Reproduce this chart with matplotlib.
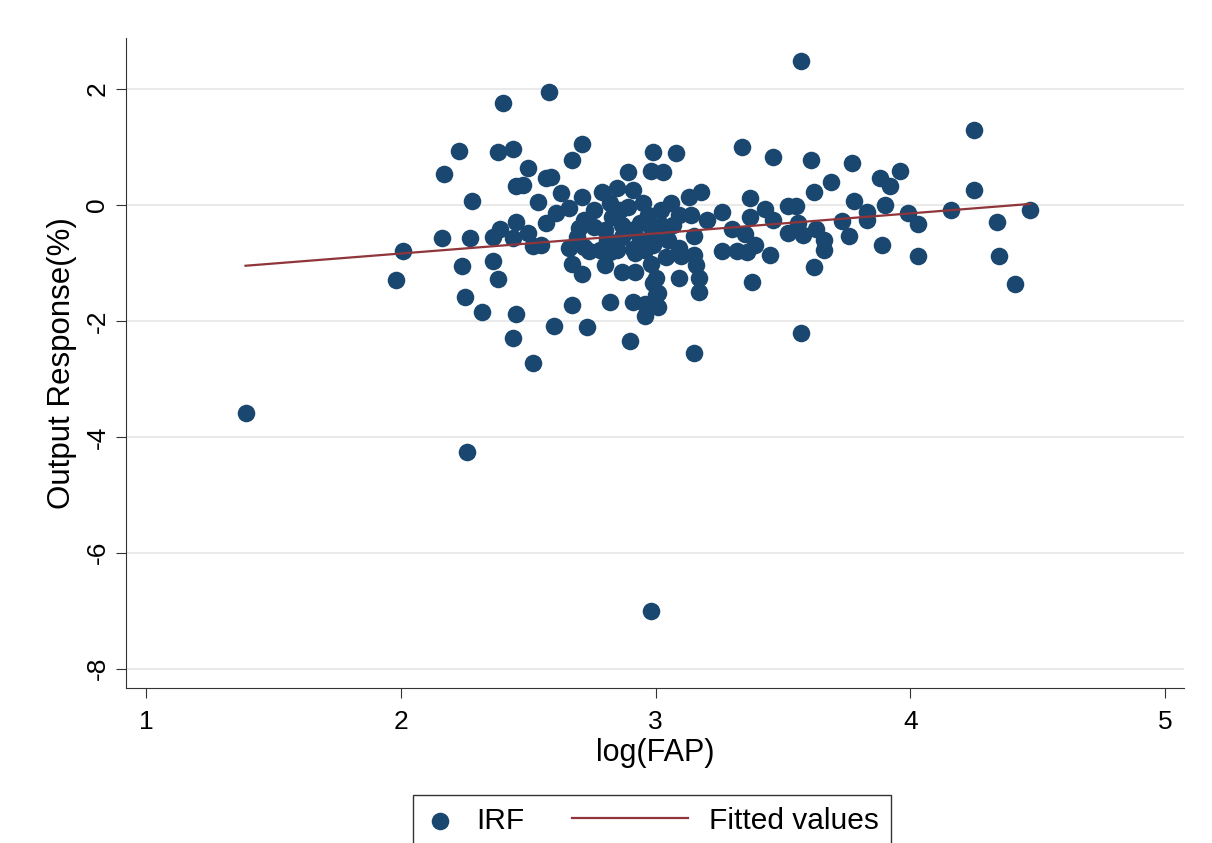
import numpy as np
import matplotlib
matplotlib.use("Agg")
import matplotlib.pyplot as plt
from matplotlib.legend_handler import HandlerLine2D

plt.rcParams['font.family'] = ['Liberation Sans', 'DejaVu Sans']

# IRF points: log(FAP), output response (%)
log_fap = [
    1.39, 2.26, 2.98, 3.57, 2.58, 2.40, 4.25, 4.47, 4.41, 4.35,
    4.34, 4.25, 4.16, 4.03, 4.03, 3.99, 3.96, 3.92, 3.88, 3.90,
    3.89, 3.83, 3.83, 3.77, 3.78, 3.76, 3.73, 3.69, 3.62, 3.66,
    3.66, 3.61, 3.62, 3.57, 3.52, 3.55, 3.56, 3.52, 3.58, 3.63,
    3.46, 3.43, 3.46, 3.45, 3.38, 3.37, 3.37, 3.35, 3.39, 3.36,
    3.34, 3.30, 3.26, 3.26, 3.32, 3.15, 3.17, 3.17, 3.16, 3.18,
    3.13, 3.06, 3.08, 2.99, 2.98, 3.03, 3.20, 3.14, 3.09, 3.15,
    3.07, 3.02, 3.05, 3.09, 3.10, 3.15, 3.09, 3.00, 2.98, 3.01,
    2.96, 3.01, 2.96, 2.90, 2.89, 2.95, 2.85, 2.91, 2.79, 2.71,
    2.67, 2.71, 2.63, 2.59, 2.54, 2.97, 2.98, 2.99, 2.94, 2.89,
    2.87, 2.83, 2.82, 2.76, 2.76, 2.70, 2.66, 2.61, 2.57, 2.69,
    2.81, 2.87, 2.94, 2.99, 2.55, 2.66, 2.72, 2.78, 2.85, 2.91,
    2.96, 2.74, 2.82, 2.92, 2.67, 2.71, 2.80, 2.87, 2.92, 2.99,
    3.00, 2.82, 2.91, 2.67, 2.60, 2.73, 2.52, 2.52, 2.44, 2.45,
    2.32, 2.25, 2.38, 2.36, 2.24, 2.16, 2.27, 2.01, 1.98, 2.17,
    2.23, 2.38, 2.44, 2.50, 2.45, 2.48, 2.28, 2.57, 2.39, 2.45,
    2.36, 2.44, 2.50, 3.04, 2.80, 2.90, 2.72, 2.86, 3.02,
]
output_resp = [
    -3.59, -4.26, -7.00, 2.48, 1.95, 1.76, 1.29, -0.09, -1.36, -0.88,
    -0.29, 0.26, -0.09, -0.88, -0.33, -0.14, 0.59, 0.33, 0.47, 0.00,
    -0.69, -0.12, -0.26, 0.72, 0.07, -0.53, -0.28, 0.40, 0.22, -0.60,
    -0.78, 0.78, -1.07, -2.21, -0.02, -0.02, -0.31, -0.48, -0.52, -0.41,
    0.83, -0.07, -0.26, -0.86, -1.33, 0.12, -0.21, -0.50, -0.69, -0.81,
    1.00, -0.41, -0.12, -0.79, -0.79, -2.55, -1.50, -1.26, -1.03, 0.22,
    0.14, 0.03, 0.90, 0.91, 0.59, 0.57, -0.26, -0.17, -0.17, -0.53,
    -0.34, -0.34, -0.60, -0.74, -0.88, -0.86, -1.26, -1.26, -1.02, -1.52,
    -1.71, -1.76, -1.91, -2.34, 0.57, 0.03, 0.29, 0.26, 0.22, 0.14,
    0.78, 1.05, 0.21, 0.48, 0.05, -0.17, -0.38, -0.52, -0.31, -0.03,
    -0.34, -0.21, 0.03, -0.09, -0.38, -0.40, -0.05, -0.14, -0.31, -0.55,
    -0.60, -0.55, -0.60, -0.69, -0.69, -0.74, -0.72, -0.78, -0.78, -0.76,
    -0.78, -0.79, -0.81, -0.83, -1.02, -1.19, -1.03, -1.16, -1.16, -1.34,
    -1.55, -1.67, -1.67, -1.72, -2.09, -2.10, -0.71, -2.72, -2.29, -1.88,
    -1.84, -1.59, -1.28, -0.97, -1.05, -0.57, -0.57, -0.79, -1.29, 0.53,
    0.93, 0.91, 0.97, 0.64, 0.33, 0.34, 0.07, 0.47, -0.41, -0.29,
    -0.55, -0.57, -0.48, -0.90, -0.43, -0.43, -0.26, -0.09, -0.09,
]

# fitted line
fit_intercept = -1.53
fit_slope = 0.346

x_ticks = [1, 2, 3, 4, 5]
y_ticks = [-8, -6, -4, -2, 0, 2]

navy = '#1a476f'
maroon = '#90353b'


class LongLine(HandlerLine2D):
    # legend line that reaches further left than the marker handle
    def create_artists(self, legend, orig_handle, xdescent, ydescent,
                       width, height, fontsize, trans):
        ext = 2.9 * fontsize
        return super().create_artists(legend, orig_handle, xdescent + ext,
                                      ydescent, width + ext, height,
                                      fontsize, trans)


fig = plt.figure(figsize=(12.12, 8.43), dpi=100)
ax = fig.add_axes([0.104, 0.184, 0.873, 0.771])

x = np.array(log_fap)
y = np.array(output_resp)
sc = ax.scatter(x, y, s=160, color=navy, zorder=3, label='IRF', linewidths=0)

xf = np.array([x.min(), x.max()])
fit_line, = ax.plot(xf, fit_intercept + fit_slope * xf, color=maroon, lw=1.6,
                    zorder=4, label='Fitted values')

ax.set_xlim(0.921, 5.075)
ax.set_ylim(-8.33, 2.88)
ax.set_xticks(x_ticks)
ax.set_yticks(y_ticks)
ax.set_yticklabels([str(v) for v in y_ticks], rotation=90, va='center')
ax.tick_params(labelsize=19, length=7, color='#333333', direction='out', pad=5)
ax.tick_params(axis='x', pad=9)
ax.yaxis.grid(True, color='#eaeaea', lw=1.5)
ax.set_axisbelow(True)
for side in ['top', 'right']:
    ax.spines[side].set_visible(False)
for side in ['left', 'bottom']:
    ax.spines[side].set_color('#333333')

ax.set_xlabel('log(FAP)', fontsize=22, labelpad=3)
ax.set_ylabel('Output Response(%)', fontsize=22.5, labelpad=6)

leg = fig.legend([sc, fit_line], ['IRF', 'Fitted values'],
                 loc='lower center', bbox_to_anchor=(0.538, -0.022), ncol=2,
                 fontsize=21.5, frameon=True, fancybox=False, edgecolor='black',
                 handlelength=1.0, handletextpad=0.7, columnspacing=4.5,
                 borderpad=0.4, handler_map={fit_line: LongLine()})
leg.get_frame().set_linewidth(1.0)

fig.savefig('out.png', dpi=100)
